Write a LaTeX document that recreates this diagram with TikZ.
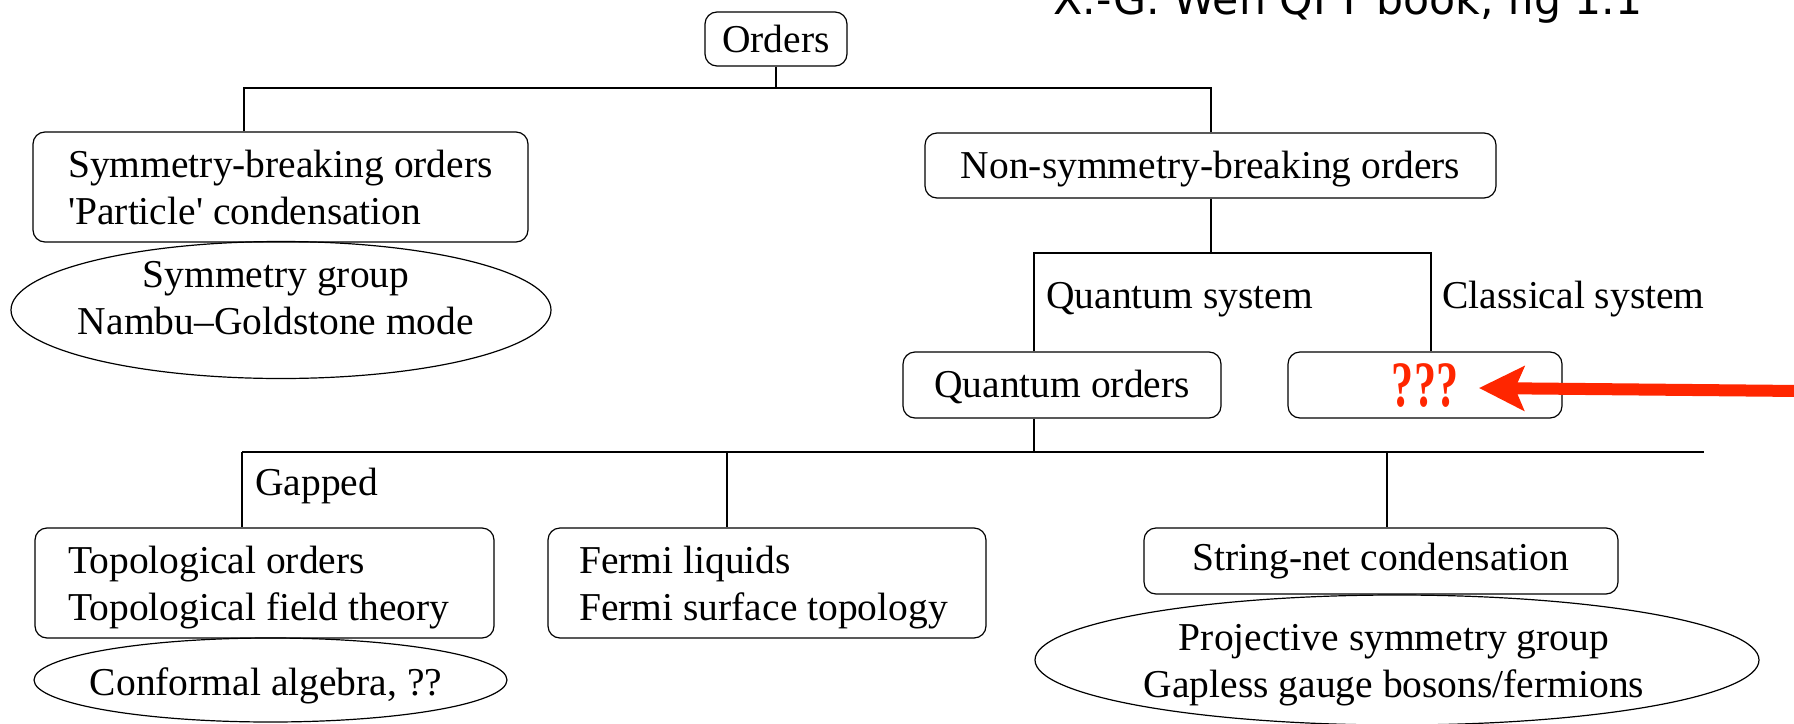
\documentclass[tikz,border=0pt]{standalone}
\usepackage{fontspec}
\setmainfont{Liberation Serif}[Ligatures=TeXOff]
\newfontfamily\notefont{DejaVu Sans}
\usepackage{graphicx}
\usetikzlibrary{shapes.geometric,arrows.meta}
\definecolor{alertred}{RGB}{255,38,0}

% lower a text inside its box while keeping the box's own height and depth
\newcommand{\lowered}[2]{\raisebox{-#1}[\height][\depth]{#2}}
% two left-aligned lines, nudged inside their box
\newcommand{\twolines}[3]{\hspace*{-#3}\lowered{2.5pt}{\begin{tabular}{@{}l@{}}#1\\#2\end{tabular}}}

\begin{document}
\begin{tikzpicture}[x=0.5pt,y=-0.5pt,
  txt/.style={font=\fontsize{19.75}{23.5}\selectfont},
  box/.style={txt, draw, rectangle, rounded corners=6pt, line width=0.6pt, inner sep=0pt, align=left},
  oval/.style={draw, ellipse, line width=0.6pt, inner sep=0pt},
  ovaltext/.style={txt, inner sep=0pt, align=center},
  conn/.style={line width=1pt},
  lbl/.style={txt, inner sep=0pt, anchor=base west},
  pointer/.style={alertred, line width=6pt, -{Stealth[length=22.5pt,width=22pt,inset=4.5pt]}}
]
\clip (0,0) rectangle (1794,723);
\fill[white] (0,0) rectangle (1794,723);

% reference note (runs off the top edge)
\node[anchor=base west, inner sep=0pt, font=\notefont\fontsize{21.3}{25}\selectfont] (note) at (1053,14) {X.-G. Wen QFT book, fig 1.1};

% root
\node[box, minimum width=71pt, minimum height=27pt] (orders) at (776,39) {Orders};

% first level
\node[box, minimum width=247.5pt, minimum height=55pt] (symb) at (280.5,187)
  {Symmetry-breaking orders\\'Particle' condensation};
\node[oval, minimum width=270pt, minimum height=68.5pt] (sgrp) at (281,310) {};
\node[ovaltext] (sgrptext) at (276,298) {Symmetry group\\Nambu–Goldstone mode};
\node[box, minimum width=285.5pt, minimum height=32.5pt] (nsb) at (1210.5,165.5)
  {\lowered{1.7pt}{Non-symmetry-breaking orders}};

% second level
\node[box, minimum width=159pt, minimum height=33pt] (qord) at (1062,385)
  {\lowered{1pt}{Quantum orders}};
\node[box, minimum width=137pt, minimum height=33pt] (qqq) at (1425,385)
  {\textcolor{alertred}{\bfseries\fontsize{32.4}{32}\selectfont\scalebox{0.68}[1]{???}}};

% third level
\node[box, minimum width=229.5pt, minimum height=55pt] (topo) at (264.5,583)
  {\twolines{Topological orders}{Topological field theory}{5.7pt}};
\node[oval, minimum width=236.5pt, minimum height=42pt] (conf) at (270.5,680) {};
\node[ovaltext] (conftext) at (266,686) {Conformal algebra, ??};
\node[box, minimum width=219pt, minimum height=55pt] (fermi) at (767,583)
  {\twolines{Fermi liquids}{Fermi surface topology}{3.4pt}};
\node[box, minimum width=237pt, minimum height=33pt] (snet) at (1381,561)
  {String-net condensation};
\node[oval, minimum width=362pt, minimum height=65pt] (proj) at (1397,660) {};
\node[ovaltext] (projtext) at (1394,665) {Projective symmetry group\\Gapless gauge bosons/fermions};

% branch labels
\node[lbl] (qsys) at (1046,308) {Quantum system};
\node[lbl] (csys) at (1442,308) {Classical system};
\node[lbl] (gap) at (255,495) {Gapped};

% junction points of the tree
\coordinate (b1) at (244,88);
\coordinate (q1) at (1034,253);
\coordinate (c1) at (1431,253);
\coordinate (g1) at (242,452);
\coordinate (f1) at (727,452);
\coordinate (s1) at (1387,452);
\coordinate (e1) at (1704,452);

% root to first level
\draw[conn] (orders.south) -- (orders.south |- b1);
\draw[conn] (b1 |- symb.north) -- (b1) -| (nsb.north);

% first to second level
\draw[conn] (nsb.south) -- (nsb.south |- q1);
\draw[conn] (q1 |- qord.north) -- (q1) -- (c1) -- (c1 |- qqq.north);

% second to third level
\draw[conn] (qord.south -| q1) -- (q1 |- g1);
\draw[conn] (g1) -- (e1);
\draw[conn] (g1) -- (g1 |- topo.north);
\draw[conn] (f1) -- (f1 |- fermi.north);
\draw[conn] (s1) -- (s1 |- snet.north);

% red pointer
\coordinate (ptail) at (1800,391);
\coordinate (ptip) at (1479,388);
\draw[pointer] (ptail) -- (ptip);
\end{tikzpicture}
\end{document}
